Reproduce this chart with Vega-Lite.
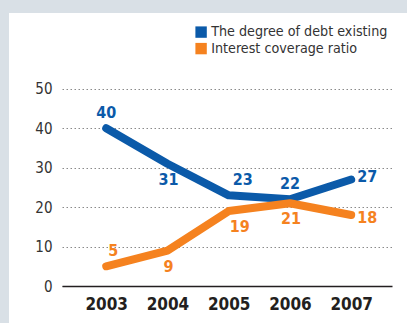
{
  "$schema": "https://vega.github.io/schema/vega-lite/v6.json",
  "width": 330,
  "height": 220,
  "autosize": {"type": "none"},
  "padding": {"left": 62, "top": 66, "right": 15, "bottom": 37},
  "background": "#d9e0e6",
  "config": {
    "view": {"fill": "white", "stroke": "white", "strokeWidth": 106},
    "font": "DejaVu Sans Condensed, Roboto, sans-serif"
  },
  "data": {
    "values": [
      {"year": "2003", "series": "The degree of debt existing", "value": 40},
      {"year": "2004", "series": "The degree of debt existing", "value": 31},
      {"year": "2005", "series": "The degree of debt existing", "value": 23},
      {"year": "2006", "series": "The degree of debt existing", "value": 22},
      {"year": "2007", "series": "The degree of debt existing", "value": 27},
      {"year": "2003", "series": "Interest coverage ratio", "value": 5},
      {"year": "2004", "series": "Interest coverage ratio", "value": 9},
      {"year": "2005", "series": "Interest coverage ratio", "value": 19},
      {"year": "2006", "series": "Interest coverage ratio", "value": 21},
      {"year": "2007", "series": "Interest coverage ratio", "value": 18}
    ]
  },
  "encoding": {
    "x": {
      "field": "year", "type": "ordinal",
      "scale": {"type": "point", "padding": 0.694, "align": 0.52},
      "axis": {
        "title": null, "labelAngle": 0, "domain": true, "domainColor": "#231f20", "domainWidth": 1.5,
        "ticks": false, "grid": false, "labelFont": "DejaVu Sans Condensed, Roboto, sans-serif", "labelFontWeight": "bold",
        "labelFontSize": 17, "labelColor": "#231f20", "labelPadding": 10
      }
    },
    "y": {
      "field": "value", "type": "quantitative",
      "scale": {"domain": [0, 55.8], "nice": false, "zero": true},
      "axis": {
        "title": null, "domain": false, "ticks": false, "grid": true, "gridDash": [1.5, 2.5],
        "gridColor": "#8a8a8a", "gridWidth": 1, "values": [0, 10, 20, 30, 40, 50],
        "labelFont": "DejaVu Sans Condensed, Roboto, sans-serif", "labelFontSize": 15, "labelColor": "#333333", "labelPadding": 10
      }
    },
    "color": {
      "field": "series", "type": "nominal",
      "scale": {"domain": ["The degree of debt existing", "Interest coverage ratio"], "range": ["#0b5aa9", "#f5821f"]},
      "legend": {
        "title": null, "orient": "none", "legendX": 132, "legendY": -41, "symbolType": "square",
        "symbolSize": 130, "symbolStrokeWidth": 0, "labelFont": "DejaVu Sans Condensed, Roboto, sans-serif", "labelFontSize": 14.2,
        "labelColor": "#333333", "padding": 0, "rowPadding": 1.5, "labelOffset": 3, "labelLimit": 300
      }
    }
  },
  "layer": [
    {
      "mark": {"type": "line", "strokeWidth": 8, "strokeCap": "round", "strokeJoin": "round"}
    },
    {
      "transform": [{"filter": "(datum.series == 'The degree of debt existing' && (datum.year == '2003' || datum.year == '2006'))"}],
      "mark": {"type": "text", "fontWeight": "bold", "fontSize": 16, "dy": -15, "baseline": "middle"},
      "encoding": {"text": {"field": "value"}}
    },
    {
      "transform": [{"filter": "(datum.series == 'The degree of debt existing' && datum.year == '2004') || (datum.series == 'Interest coverage ratio' && (datum.year == '2004' || datum.year == '2006'))"}],
      "mark": {"type": "text", "fontWeight": "bold", "fontSize": 16, "dy": 16, "dx": 1, "baseline": "middle"},
      "encoding": {"text": {"field": "value"}}
    },
    {
      "transform": [{"filter": "datum.series == 'The degree of debt existing' && datum.year == '2005'"}],
      "mark": {"type": "text", "fontWeight": "bold", "fontSize": 16, "dy": -15, "dx": 14, "baseline": "middle"},
      "encoding": {"text": {"field": "value"}}
    },
    {
      "transform": [{"filter": "datum.series == 'Interest coverage ratio' && datum.year == '2003'"}],
      "mark": {"type": "text", "fontWeight": "bold", "fontSize": 16, "dy": -15, "dx": 7, "baseline": "middle"},
      "encoding": {"text": {"field": "value"}}
    },
    {
      "transform": [{"filter": "datum.series == 'Interest coverage ratio' && datum.year == '2005'"}],
      "mark": {"type": "text", "fontWeight": "bold", "fontSize": 16, "dy": 16, "dx": 11, "baseline": "middle"},
      "encoding": {"text": {"field": "value"}}
    },
    {
      "transform": [{"filter": "datum.series == 'The degree of debt existing' && datum.year == '2007'"}],
      "mark": {"type": "text", "fontWeight": "bold", "fontSize": 16, "dy": -3, "dx": 16, "baseline": "middle"},
      "encoding": {"text": {"field": "value"}}
    },
    {
      "transform": [{"filter": "datum.series == 'Interest coverage ratio' && datum.year == '2007'"}],
      "mark": {"type": "text", "fontWeight": "bold", "fontSize": 16, "dy": 3, "dx": 16, "baseline": "middle"},
      "encoding": {"text": {"field": "value"}}
    }
  ]
}
